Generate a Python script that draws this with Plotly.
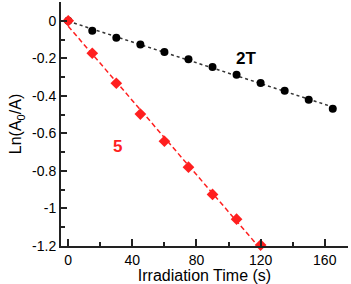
import numpy as np
import plotly.graph_objects as go

# Data
time_2t = [0, 15, 30, 45, 60, 75, 90, 105, 120, 135, 150, 165]
ln_2t = [0, -0.053, -0.09, -0.127, -0.166, -0.205, -0.246, -0.288, -0.331, -0.373, -0.421, -0.469]
time_5 = [0, 15, 30, 45, 60, 75, 90, 105, 120]
ln_5 = [0, -0.173, -0.333, -0.497, -0.642, -0.78, -0.925, -1.057, -1.195]

y_tickvals = [0, -0.2, -0.4, -0.6, -0.8, -1.0, -1.2]
y_ticktext = ["0", "-0.2", "-0.4", "-0.6", "-0.8", "-1", "-1.2"]
x_tickvals = [0, 40, 80, 120, 160]
x_ticktext = ["0", "40", "80", "120", "160"]

RED = "#ff1f1f"
FONT = "Liberation Sans, Arial, sans-serif"

fig = go.Figure()

# Linear fits
for xs, ys, color, dash in [(time_2t, ln_2t, "#333333", "dot"), (time_5, ln_5, RED, "5px,3px")]:
    k, b = np.polyfit(xs, ys, 1)
    fx = np.array([xs[0], xs[-1]])
    fig.add_trace(go.Scatter(x=fx, y=k * fx + b, mode="lines",
                             line=dict(color=color, width=1.5, dash=dash),
                             showlegend=False, hoverinfo="skip"))

fig.add_trace(go.Scatter(x=time_2t, y=ln_2t, mode="markers",
                         marker=dict(symbol="circle", size=8, color="black"),
                         showlegend=False))
fig.add_trace(go.Scatter(x=time_5, y=ln_5, mode="markers",
                         marker=dict(symbol="diamond", size=9, color=RED),
                         showlegend=False, cliponaxis=False))

fig.add_annotation(x=111, y=-0.2, text="<b>2T</b>", showarrow=False,
                   font=dict(size=17, color="black", family=FONT))
fig.add_annotation(x=31, y=-0.67, text="<b>5</b>", showarrow=False,
                   font=dict(size=17, color=RED, family=FONT))

fig.update_layout(
    width=351, height=284,
    margin=dict(l=61, r=3, t=2, b=38),
    paper_bgcolor="white", plot_bgcolor="white",
    font=dict(family=FONT, size=14, color="black"),
    xaxis=dict(
        range=[-4.5, 174.5], showgrid=False, zeroline=False,
        showline=True, linecolor="#222", linewidth=2,
        tickmode="array", tickvals=x_tickvals, ticktext=x_ticktext,
        ticks="inside", ticklen=7, tickwidth=1.5, tickcolor="#222",
        minor=dict(tickmode="linear", tick0=0, dtick=20, ticks="inside",
                   ticklen=4, tickwidth=1.5, tickcolor="#222"),
        title=dict(text="Irradiation Time (s)", font=dict(size=16), standoff=0),
        tickfont=dict(size=14),
    ),
    yaxis=dict(
        range=[-1.2, 0.1], showgrid=False, zeroline=False,
        showline=True, linecolor="#222", linewidth=2,
        tickmode="array", tickvals=y_tickvals, ticktext=y_ticktext,
        ticks="inside", ticklen=6, tickwidth=1.5, tickcolor="#222",
        minor=dict(tickmode="linear", tick0=0, dtick=0.1, ticks="inside",
                   ticklen=4, tickwidth=1.5, tickcolor="#222"),
        title=dict(text="Ln(A<sub>0</sub>/A)", font=dict(size=16), standoff=6),
        tickfont=dict(size=14),
    ),
)

fig.write_html("out.html", config={"displayModeBar": False},
               post_script="document.body.style.margin='0';")
